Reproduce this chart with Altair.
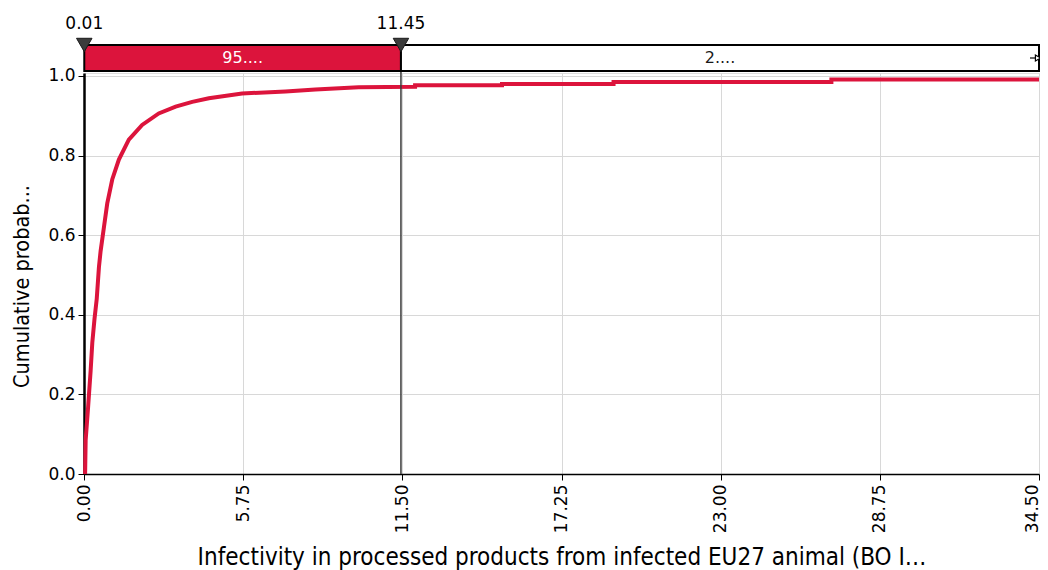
import altair as alt
import pandas as pd

# ---- data ----
cdf_x = [0.04, 0.06, 0.15, 0.24, 0.30, 0.38, 0.46, 0.54, 0.60, 0.72, 0.84, 1.02, 1.26, 1.62,
         2.10, 2.70, 3.31, 3.91, 4.51, 5.71, 7.28, 8.36, 9.92, 11.96, 11.96, 15.10, 15.10,
         19.13, 19.13, 27.00, 27.00, 34.50]
cdf_y = [0.00, 0.085, 0.17, 0.26, 0.33, 0.39, 0.44, 0.52, 0.56, 0.62, 0.68, 0.74, 0.79, 0.84,
         0.877, 0.906, 0.923, 0.935, 0.944, 0.956, 0.961, 0.966, 0.972, 0.973, 0.977, 0.977,
         0.980, 0.980, 0.985, 0.985, 0.991, 0.991]
x_ticks = [0.0, 5.75, 11.5, 17.25, 23.0, 28.75, 34.5]
y_ticks = [0.0, 0.2, 0.4, 0.6, 0.8, 1.0]
band_start = [0.01, 11.45]
band_end = [11.45, 34.5]
band_text = ["95....", "2...."]
band_fill = ["#dc143c", "#ffffff"]
band_text_color = ["#ffffff", "#1a1a1a"]
marker_values = [0.01, 11.45]
marker_labels = ["0.01", "11.45"]
x_domain = [0.0, 34.5]
y_domain = [0.0, 1.0075]
x_title = "Infectivity in processed products from infected EU27 animal (BO I…"
y_title = "Cumulative probab..."

FONT = "DejaVu Sans"
TFONT = "DejaVu Sans Condensed, DejaVu Sans"
W, H = 955, 401

xscale = alt.Scale(domain=x_domain, nice=False, zero=False)
yscale = alt.Scale(domain=y_domain, nice=False, zero=False)

cdf = pd.DataFrame({"x": cdf_x, "y": cdf_y})
bands = pd.DataFrame({"start": band_start, "end": band_end, "label": band_text,
                      "fill": band_fill, "tcolor": band_text_color})
markers = pd.DataFrame({"v": marker_values, "label": marker_labels})
end_df = pd.DataFrame({"v": [x_domain[1]]})

x_axis = alt.Axis(values=x_ticks, format=".2f", labelAngle=270, labelFontSize=17,
                  labelFont=FONT, labelColor="#000000", labelFlush=False, labelOverlap=False,
                  labelOffset={"condition": {"test": "datum.value >= 34.5", "value": -7},
                               "value": 0},
                  labelPadding=4, title=x_title, titleFont=TFONT, titleFontSize=24,
                  titleFontWeight="normal", titleColor="#000000", titleY=83,
                  titleBaseline="middle", grid=True, gridColor="#d8d8d8", gridWidth=1,
                  tickColor="#000000", tickSize=6, domainColor="#000000", domainWidth=1.5)
y_axis = alt.Axis(values=y_ticks, format=".1f", labelFontSize=17, labelFont=FONT,
                  labelColor="#000000", labelPadding=3, labelFlush=False,
                  title=y_title, titleFont=TFONT, titleFontSize=21.5, titleFontWeight="normal",
                  titleColor="#000000", titleX=-62, titleY=213, titleAngle=270,
                  titleBaseline="middle", titleAlign="center", grid=True, gridColor="#d8d8d8",
                  gridWidth=1, tickColor="#000000", tickSize=6, domainColor="#000000",
                  domainWidth=2.5)

line = alt.Chart(cdf).mark_line(color="#dc143c", strokeWidth=4).encode(
    x=alt.X("x:Q", scale=xscale, axis=x_axis),
    y=alt.Y("y:Q", scale=yscale, axis=y_axis),
)

vrule = alt.Chart(markers).transform_filter(alt.datum.v > 1).mark_rule(
    color="#3a3a3a", strokeWidth=1.5).encode(
    x=alt.X("v:Q", scale=xscale), y=alt.value(-28), y2=alt.value(H))

band_rect = alt.Chart(bands).mark_rect(stroke="#000000", strokeWidth=2).encode(
    x=alt.X("start:Q", scale=xscale), x2="end:Q",
    y=alt.value(-28), y2=alt.value(-2),
    fill=alt.Fill("fill:N", scale=None, legend=None),
)

band_label = alt.Chart(bands).transform_calculate(
    mid="(datum.start + datum.end) / 2").mark_text(
    font=FONT, fontSize=16, baseline="middle", align="center").encode(
    x=alt.X("mid:Q", scale=xscale), y=alt.value(-15),
    text="label:N", color=alt.Color("tcolor:N", scale=None, legend=None),
)

tri = alt.Chart(markers).mark_point(shape="triangle-down", filled=True, size=240,
                                    color="#3c3c3c", stroke="#1a1a1a", strokeWidth=1,
                                    opacity=1).encode(
    x=alt.X("v:Q", scale=xscale), y=alt.value(-28))

top_label = alt.Chart(markers).mark_text(font=FONT, fontSize=17, baseline="middle",
                                         align="center", color="#000000").encode(
    x=alt.X("v:Q", scale=xscale), y=alt.value(-49), text="label:N")

end_tick = alt.Chart(end_df).mark_rule(color="#000000", strokeWidth=1.2, xOffset=-9,
                                       x2Offset=-2).encode(
    x=alt.X("v:Q", scale=xscale), x2="v:Q", y=alt.value(-15))
end_arrow = alt.Chart(end_df).mark_point(shape="triangle-right", filled=True, size=36,
                                         fill="#ffffff", stroke="#000000", strokeWidth=1.2,
                                         opacity=1, xOffset=-1).encode(
    x=alt.X("v:Q", scale=xscale), y=alt.value(-15))

chart = alt.layer(line, vrule, band_rect, band_label, tri, top_label, end_tick,
                  end_arrow).properties(
    width=W, height=H,
    autosize=alt.AutoSizeParams(type="none"),
    padding={"left": 76, "top": 65, "right": 1, "bottom": 96},
).configure_view(fill="#f4f4f4", stroke="transparent").configure(font=FONT)

chart.save("out.html", embed_options={"renderer": "svg", "actions": False})
